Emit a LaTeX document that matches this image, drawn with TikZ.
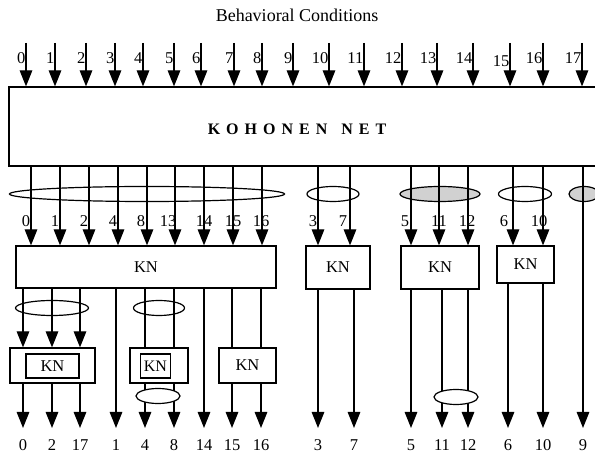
\documentclass[tikz,border=0pt]{standalone}
\usepackage{fontspec}
\setmainfont{Liberation Serif}
\usetikzlibrary{arrows.meta,shapes.geometric}
\tikzset{
  lw/.style={line width=1.2pt},
  arr/.style={lw,-{Triangle[length=16pt,width=12.5pt]}},
  box/.style={draw,rectangle,inner sep=0pt,lw},
  ell/.style={draw,ellipse,inner sep=0pt,lw,minimum height=15pt},
  shd/.style={fill=black!18},
  lbl/.style={inner sep=0pt,font=\fontsize{16.5}{18}\selectfont},
}
\begin{document}
\begin{tikzpicture}[x=1pt,y=-1pt]
\useasboundingbox (0,0) rectangle (595,454);
\clip (0,0) rectangle (595,454);
\node[lbl,font=\fontsize{18}{20}\selectfont] (title) at (297,15) {Behavioral Conditions};
% Kohonen net
\node[box,minimum width=631pt,minimum height=79pt] (K) at (324.5,126.5) {};
\node[lbl,font=\fontsize{16}{18}\selectfont\bfseries] (Kt) at (297,129) {K\kern6pt O\kern6pt H\kern6pt O\kern6pt N\kern6pt E\kern6pt N\kern14pt N\kern6pt E\kern6pt T};
% top inputs
\foreach \x/\l/\ly in {26/0/58,55/1/58,86/2/58,115/3/58,143/4/58,174/5/58,201/6/58,234/7/58,262/8/58,293/9/58,329/10/58,364/11/58,402/12/58,437/13/58,473/14/58,510/15/61,543/16/58,582/17/58}{
  \coordinate (t\l) at (\x,43);
  \draw[arr] (t\l) -- (K.north -| t\l);
  \node[lbl,anchor=east] (tl\l) at (\x-0.5,\ly) {\l};
}
% ellipses between Kohonen net and KN boxes
\node[ell,minimum width=275pt] (E1) at (147,194) {};
\node[ell,minimum width=52pt] (E2) at (333,194) {};
\node[ell,shd,minimum width=80pt] (E3) at (440,194) {};
\node[ell,minimum width=53pt] (E4) at (525,194) {};
\node[ell,shd,minimum width=30pt] (E5) at (584,194) {};
% KN boxes
\node[box,lbl,minimum width=260pt,minimum height=42pt] (KN1) at (146,267) {KN};
\node[box,lbl,minimum width=64pt,minimum height=43pt] (KN2) at (338,267.5) {KN};
\node[box,lbl,minimum width=78pt,minimum height=43pt] (KN3) at (440,267.5) {KN};
\node[box,lbl,minimum width=57pt,minimum height=37pt] (KN4) at (525.5,264.5) {KN};
% lines from Kohonen net to KN boxes
\foreach \x/\l/\lx in {31/0/26,60/1/55,89/2/84,118/4/113,147/8/141,175/13/168,204/14/204,233/15/233,262/16/261}{
  \coordinate (a\l) at (\x,0);
  \draw[arr] (K.south -| a\l) -- (KN1.north -| a\l);
  \node[lbl] (al\l) at (\lx,221) {\l};
}
\foreach \x/\l/\lx in {318/3/313,350/7/343}{
  \coordinate (a\l) at (\x,0);
  \draw[arr] (K.south -| a\l) -- (KN2.north -| a\l);
  \node[lbl] (al\l) at (\lx,221) {\l};
}
\foreach \x/\l/\lx in {411/5/405,439/11/439,468/12/467}{
  \coordinate (a\l) at (\x,0);
  \draw[arr] (K.south -| a\l) -- (KN3.north -| a\l);
  \node[lbl] (al\l) at (\lx,221) {\l};
}
\foreach \x/\l/\lx in {513/6/504,543/10/539}{
  \coordinate (a\l) at (\x,0);
  \draw[arr] (K.south -| a\l) -- (KN4.north -| a\l);
  \node[lbl] (al\l) at (\lx,221) {\l};
}
% lower ellipses above sub-boxes
\node[ell,minimum width=73pt] (EA) at (52,308) {};
\node[ell,minimum width=51pt] (EB) at (159,308) {};
% sub-boxes
\node[box,minimum width=85pt,minimum height=35pt] (A) at (52.5,365.5) {};
\node[box,lbl,minimum width=53pt,minimum height=24pt] (Ai) at (52.5,366) {KN};
\node[box,minimum width=58pt,minimum height=35pt] (B) at (159,365.5) {};
\node[box,lbl,font=\fontsize{16}{18}\selectfont,minimum width=30pt,minimum height=24pt] (Bi) at (155.5,366) {KN};
\node[box,lbl,minimum width=57pt,minimum height=35pt] (C) at (247.5,365.5) {KN};
% outputs
\foreach \x/\l in {23/0,52/2,80/17,116/1,145/4,174/8,204/14,232/15,261/16,318/3,354/7,411/5,442/11,468/12,508/6,543/10,583/9}{
  \coordinate (o\l) at (\x,428);
  \node[lbl] (ol\l) at (\x,445) {\l};
}
\foreach \l in {0,2,17}{
  \draw[arr] (KN1.south -| o\l) -- (A.north -| o\l);
  \draw[arr] (A.south -| o\l) -- (o\l);
}
\foreach \l in {4,8}{
  \draw[lw] (KN1.south -| o\l) -- (B.north -| o\l);
  \draw[arr] (B.south -| o\l) -- (o\l);
}
\foreach \l in {15,16}{
  \draw[lw] (KN1.south -| o\l) -- (C.north -| o\l);
  \draw[arr] (C.south -| o\l) -- (o\l);
}
\foreach \l in {1,14}{\draw[arr] (KN1.south -| o\l) -- (o\l);}
\foreach \l in {3,7}{\draw[arr] (KN2.south -| o\l) -- (o\l);}
\foreach \l in {5,11,12}{\draw[arr] (KN3.south -| o\l) -- (o\l);}
\foreach \l in {6,10}{\draw[arr] (KN4.south -| o\l) -- (o\l);}
\draw[arr] (K.south -| o9) -- (o9);
% ellipses drawn over output lines
\node[ell,fill=white,minimum width=44pt] (EB2) at (158,396) {};
\node[ell,fill=white,minimum width=44pt] (EC) at (456,397) {};
\end{tikzpicture}
\end{document}
